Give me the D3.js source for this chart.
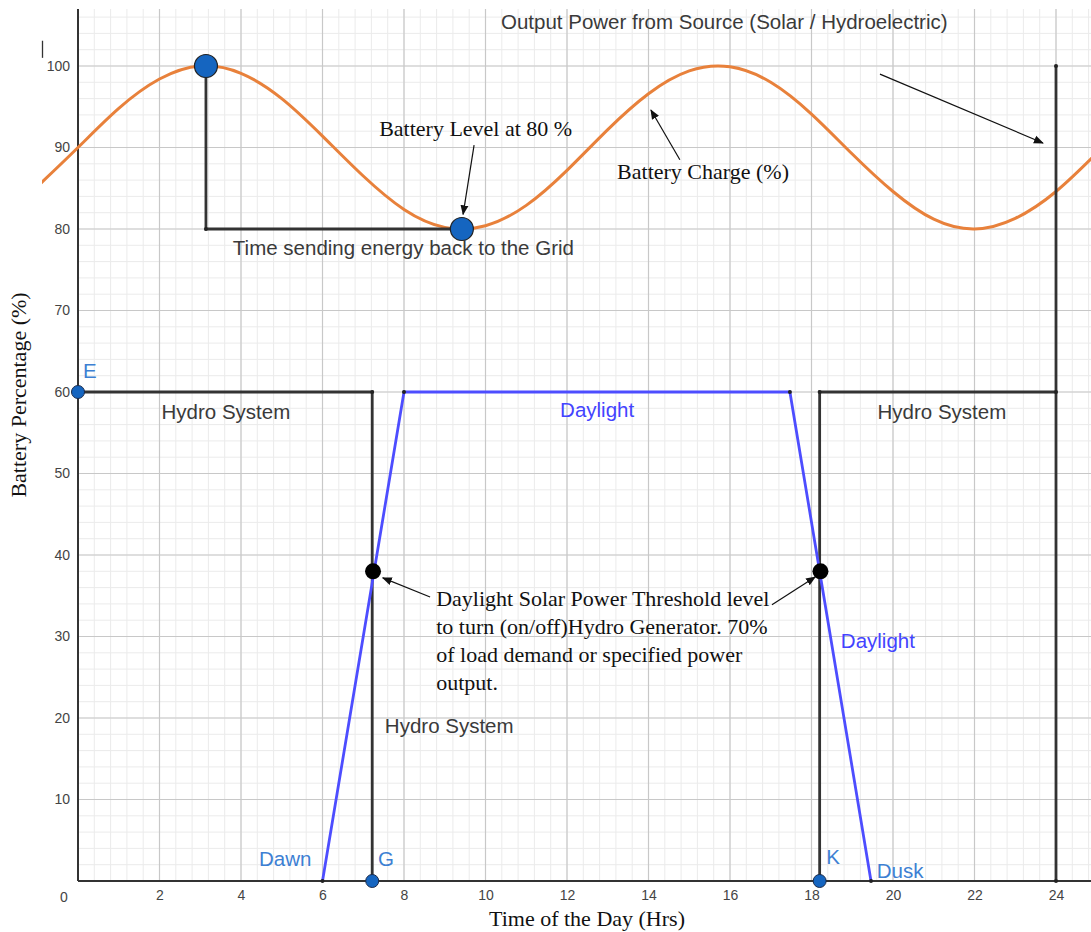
<!DOCTYPE html>
<html><head><meta charset="utf-8">
<script src="https://cdn.jsdelivr.net/npm/d3@7"></script>
<style>body{margin:0;background:#fff}svg{display:block}</style>
</head><body>
<svg id="c" width="1091" height="932"></svg>
<script>
// ---- data ----
const xTicks = [2,4,6,8,10,12,14,16,18,20,22,24];
const yTicks = [10,20,30,40,50,60,70,80,90,100];
// battery charge curve (hour, %)
const chargeHours = [-1,0,1,2,3,4,5,6,7,8,9,10,11,12,13,14,15,16,17,18,19,20,21,22,23,24,25];
const chargeValues = [85.2,90,94.8,98.4,100,99.1,96,91.4,86.5,82.4,80.2,80.4,82.9,87.2,92.2,96.6,99.4,99.9,98,94.1,89.2,84.6,81.2,80,81.3,84.6,89.3];
// daylight (solar) trapezoid
const daylightHours = [6,8,17.47,19.46];
const daylightValues = [0,60,60,0];
// hydro system outlines
const hydroLeft = [[0,60],[7.22,60],[7.22,0]];
const hydroRight = [[18.2,0],[18.2,60],[24,60]];
const outputLine = [[24,0],[24,100]];
const gridSendLine = [[3.14,100],[3.14,80],[9.42,80]];
// points
const bigPoints = [[3.14,100],[9.42,80]];
const smallPoints = [[0,60],[7.22,0],[18.2,0]];
const thresholdPoints = [[7.24,38],[18.22,38]];
const vertexDots = [[3.14,80],[7.22,60],[18.2,60],[24,60],[24,100],[24,0],[6,0],[8,60],[17.47,60],[19.46,0]];
// labels
const blueLabels = [
  {t:"E",x:0.12,y:61.7},{t:"Dawn",x:4.44,y:1.8},{t:"G",x:7.36,y:1.8},
  {t:"K",x:18.36,y:2.1},{t:"Dusk",x:19.6,y:0.4}];
const daylightLabels = [{t:"Daylight",x:12.74,y:56.9,a:"middle"},{t:"Daylight",x:18.72,y:28.6,a:"start"}];
const grayLabels = [
  {t:"Hydro System",x:3.63,y:56.7,a:"middle"},
  {t:"Hydro System",x:21.2,y:56.7,a:"middle"},
  {t:"Hydro System",x:7.53,y:18.2,a:"start"},
  {t:"Time sending energy back to the Grid",x:3.8,y:76.8,a:"start"},
  {t:"Output Power from Source (Solar / Hydroelectric)",x:10.38,y:104.5,a:"start"}];
const serifLabels = [
  {t:"Battery Level at 80 %",x:7.39,y:91.4},
  {t:"Battery Charge (%)",x:13.23,y:86.1}];
const thresholdLines = ["Daylight Solar Power Threshold level","to turn (on/off)Hydro Generator. 70%","of load demand or specified power","output."];
const arrows = [
  [[9.72,90.3],[9.45,81.8]],
  [[14.77,88.5],[14.06,94.6]],
  [[19.68,99.0],[23.68,90.55]],
  [[8.64,34.85],[7.48,37.2]],
  [[17.03,33.9],[18.09,37.3]]];

// ---- drawing ----
const svg = d3.select("#c");
const x = d3.scaleLinear().domain([0,24]).range([78,1056]);
const y = d3.scaleLinear().domain([0,100]).range([881,66]);
const xMax = x.invert(1091), yMax = y.invert(9);

const grid = svg.append("g");
const minorX = d3.range(0, xMax, 0.4), minorY = d3.range(0, yMax, 2);
grid.selectAll(".mx").data(minorX).join("line")
  .attr("x1",d=>x(d)).attr("x2",d=>x(d)).attr("y1",y(0)).attr("y2",y(yMax))
  .attr("stroke","#ebebeb").attr("stroke-width",1);
grid.selectAll(".my").data(minorY).join("line")
  .attr("y1",d=>y(d)).attr("y2",d=>y(d)).attr("x1",x(0)).attr("x2",x(xMax))
  .attr("stroke","#ebebeb").attr("stroke-width",1);
grid.selectAll(".Mx").data(d3.range(2, xMax, 2)).join("line")
  .attr("x1",d=>x(d)).attr("x2",d=>x(d)).attr("y1",y(0)).attr("y2",y(yMax))
  .attr("stroke","#c8c8c8").attr("stroke-width",1.2);
grid.selectAll(".My").data(d3.range(10, yMax, 10)).join("line")
  .attr("y1",d=>y(d)).attr("y2",d=>y(d)).attr("x1",x(0)).attr("x2",x(xMax))
  .attr("stroke","#c8c8c8").attr("stroke-width",1.2);

const sans = "Arial, 'Liberation Sans', sans-serif", serif = "'Times New Roman','Liberation Serif',serif";

// axes
const xAxis = svg.append("g").attr("transform",`translate(0,${y(0)})`)
  .call(d3.axisBottom(x).tickValues(xTicks).tickSize(0).tickPadding(9).tickFormat(d3.format("d")));
const yAxis = svg.append("g").attr("transform",`translate(${x(0)},0)`)
  .call(d3.axisLeft(y).tickValues(yTicks).tickSize(0).tickPadding(8).tickFormat(d3.format("d")));
[xAxis,yAxis].forEach(g=>{g.select(".domain").remove();
  g.selectAll("text").attr("font-family",sans).attr("font-size",14).attr("fill","#444");});
svg.append("text").attr("x",x(0)-14).attr("y",y(0)+21).attr("text-anchor","middle")
  .attr("font-family",sans).attr("font-size",14).attr("fill","#444").text("0");
svg.append("line").attr("x1",x(0)).attr("x2",x(0)).attr("y1",y(yMax)).attr("y2",y(0)).attr("stroke","#333").attr("stroke-width",2);
svg.append("line").attr("x1",x(0)).attr("x2",x(xMax)).attr("y1",y(0)).attr("y2",y(0)).attr("stroke","#333").attr("stroke-width",2);
// cursor artifact
svg.append("line").attr("x1",42.5).attr("x2",42.5).attr("y1",y(103.1)).attr("y2",y(101.0)).attr("stroke","#333").attr("stroke-width",1.3);

// axis titles
svg.append("text").attr("x",587).attr("y",926).attr("text-anchor","middle")
  .attr("font-family",serif).attr("font-size",22).attr("fill","#111").text("Time of the Day (Hrs)");
svg.append("text").attr("transform","translate(26,395) rotate(-90)").attr("text-anchor","middle")
  .attr("font-family",serif).attr("font-size",22).attr("fill","#111").text("Battery Percentage (%)");

// clip for curve
svg.append("defs").append("clipPath").attr("id","clip").append("rect")
  .attr("x",42).attr("y",0).attr("width",1091-42).attr("height",932);
const line = d3.line().x(d=>x(d[0])).y(d=>y(d[1]));
svg.append("path").attr("clip-path","url(#clip)")
  .attr("d", line.curve(d3.curveNatural)(chargeHours.map((h,i)=>[h,chargeValues[i]])))
  .attr("fill","none").attr("stroke","#e8813b").attr("stroke-width",3);
line.curve(d3.curveLinear);

// black lines
[hydroLeft,hydroRight,outputLine,gridSendLine].forEach(p=>{
  svg.append("path").attr("d",line(p)).attr("fill","none").attr("stroke","#333").attr("stroke-width",2.8);
});
// daylight line
svg.append("path").attr("d",line(daylightHours.map((h,i)=>[h,daylightValues[i]])))
  .attr("fill","none").attr("stroke","#4d4dff").attr("stroke-width",2.8).attr("stroke-linejoin","miter");

svg.selectAll(".vd").data(vertexDots).join("circle").attr("cx",d=>x(d[0])).attr("cy",d=>y(d[1])).attr("r",2).attr("fill","#222");

// arrows
const defs = svg.select("defs");
defs.append("marker").attr("id","ah").attr("viewBox","0 0 10 10").attr("refX",9).attr("refY",5)
  .attr("markerWidth",10).attr("markerHeight",10).attr("markerUnits","userSpaceOnUse").attr("orient","auto")
  .append("path").attr("d","M0,1 L10,5 L0,9 Z").attr("fill","#111");
svg.selectAll(".arr").data(arrows).join("line")
  .attr("x1",d=>x(d[0][0])).attr("y1",d=>y(d[0][1])).attr("x2",d=>x(d[1][0])).attr("y2",d=>y(d[1][1]))
  .attr("stroke","#111").attr("stroke-width",1.2).attr("marker-end","url(#ah)");

// points
svg.selectAll(".bp").data(bigPoints).join("circle").attr("cx",d=>x(d[0])).attr("cy",d=>y(d[1])).attr("r",11.5)
  .attr("fill","#1565c0").attr("stroke","#222").attr("stroke-width",1.2);
svg.selectAll(".sp").data(smallPoints).join("circle").attr("cx",d=>x(d[0])).attr("cy",d=>y(d[1])).attr("r",6.5)
  .attr("fill","#1565c0").attr("stroke","#1a2a4a").attr("stroke-width",1);
svg.selectAll(".tp").data(thresholdPoints).join("circle").attr("cx",d=>x(d[0])).attr("cy",d=>y(d[1])).attr("r",8)
  .attr("fill","#000");

// labels
svg.selectAll(".bl").data(blueLabels).join("text").attr("x",d=>x(d.x)).attr("y",d=>y(d.y))
  .attr("font-family",sans).attr("font-size",20.5).attr("fill","#3d80d3").text(d=>d.t);
svg.selectAll(".dl").data(daylightLabels).join("text").attr("x",d=>x(d.x)).attr("y",d=>y(d.y)).attr("text-anchor",d=>d.a)
  .attr("font-family",sans).attr("font-size",20.5).attr("fill","#4343ff").text(d=>d.t);
svg.selectAll(".gl").data(grayLabels).join("text").attr("x",d=>x(d.x)).attr("y",d=>y(d.y)).attr("text-anchor",d=>d.a)
  .attr("font-family",sans).attr("font-size",20.5).attr("fill","#3a3a3a").text(d=>d.t);
svg.selectAll(".sl").data(serifLabels).join("text").attr("x",d=>x(d.x)).attr("y",d=>y(d.y))
  .attr("font-family",serif).attr("font-size",22).attr("fill","#111").text(d=>d.t);
svg.selectAll(".th").data(thresholdLines).join("text").attr("x",x(8.79)).attr("y",(d,i)=>y(33.7)+i*28)
  .attr("font-family",serif).attr("font-size",22).attr("fill","#111").text(d=>d);
</script>
</body></html>
